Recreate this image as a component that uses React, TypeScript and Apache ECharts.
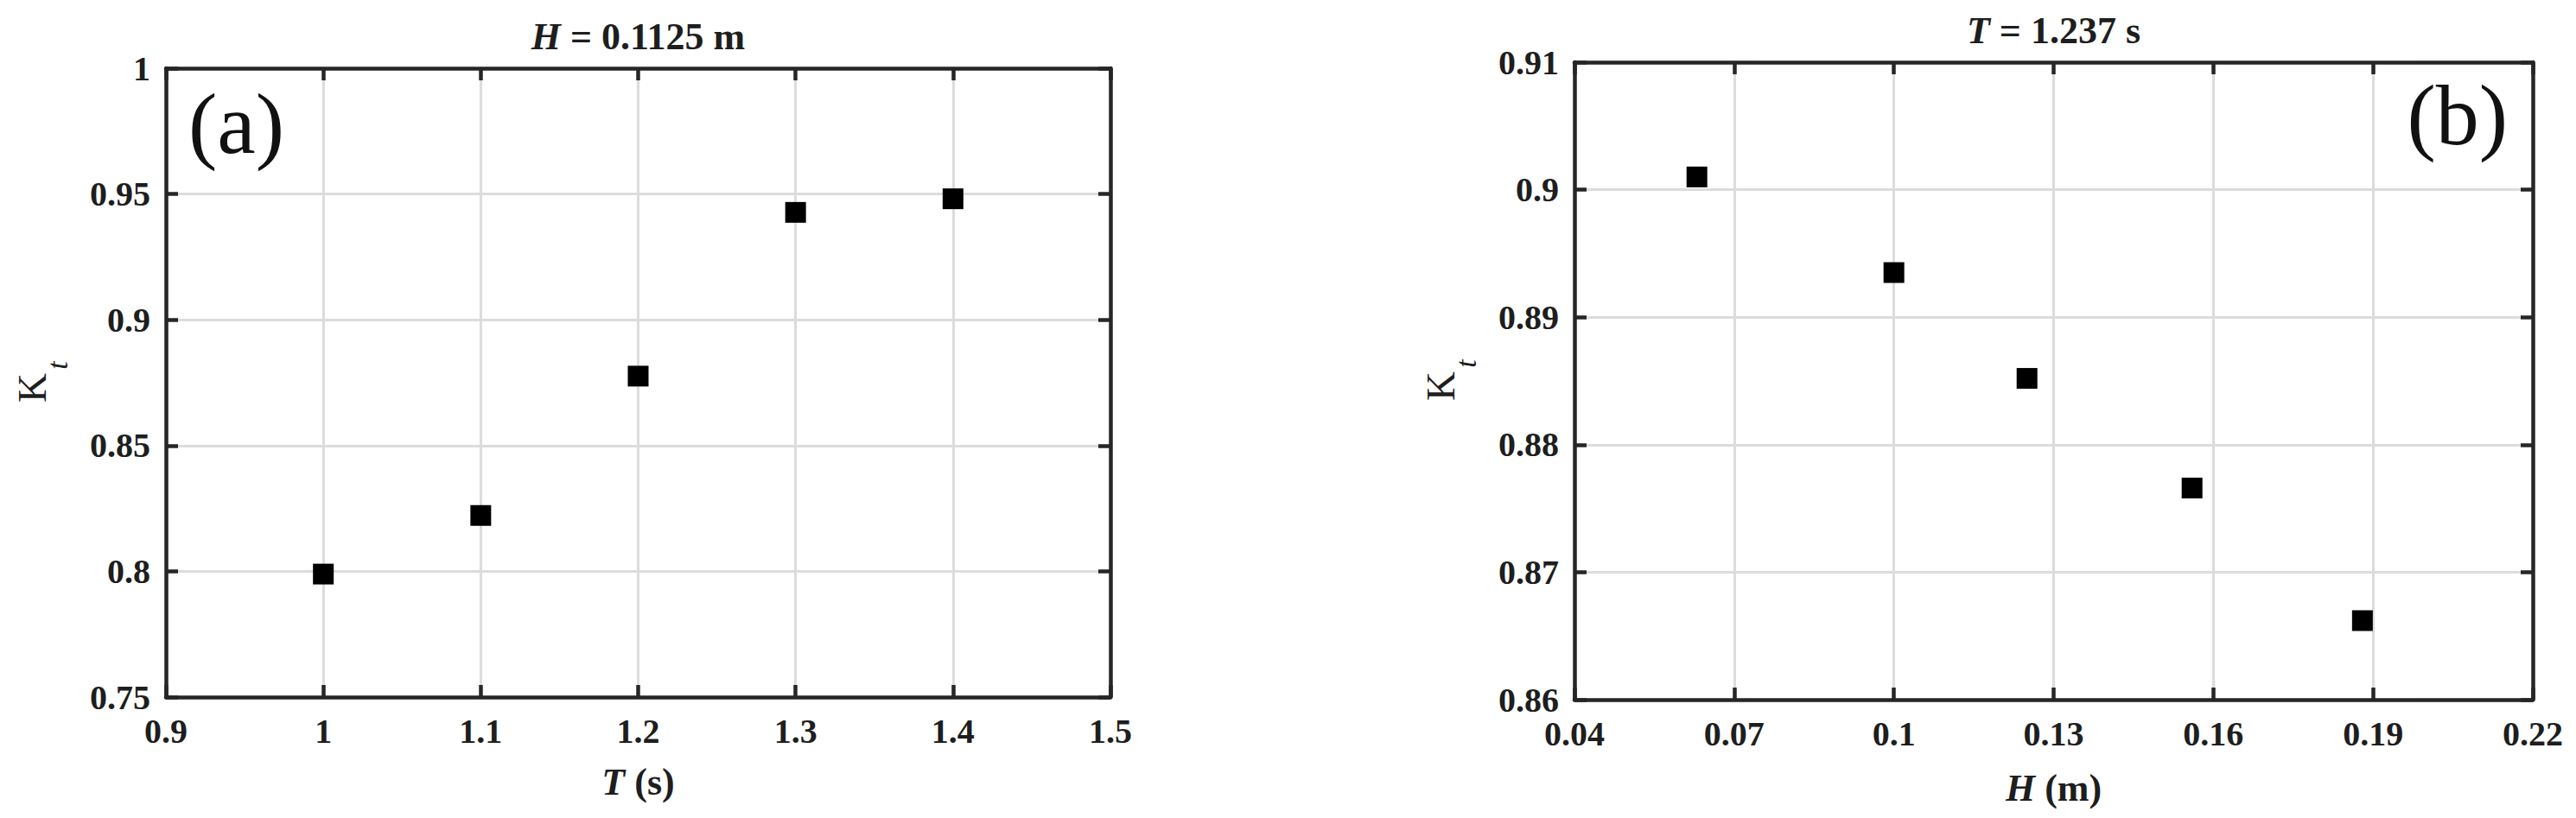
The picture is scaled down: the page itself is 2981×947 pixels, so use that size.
import React, { useEffect, useRef } from "react";
import * as echarts from "echarts";

// ---- data ----
const T_VALUES = [1.0, 1.1, 1.2, 1.3, 1.4]; // wave period T (s), panel (a)
const KT_A = [0.7989, 0.8222, 0.8776, 0.9427, 0.9481]; // K_t, panel (a)
const H_VALUES = [0.063, 0.1, 0.125, 0.156, 0.188]; // wave height H (m), panel (b)
const KT_B = [0.901, 0.8935, 0.8852, 0.8766, 0.8662]; // K_t, panel (b)

const X_A = { min: 0.9, max: 1.5, interval: 0.1 };
const Y_A = { min: 0.75, max: 1.0, interval: 0.05 };
const X_B = { min: 0.04, max: 0.22, interval: 0.03 };
const Y_B = { min: 0.86, max: 0.91, interval: 0.01 };

const TITLE_A = "{i|H} = 0.1125 m";
const TITLE_B = "{i|T} = 1.237 s";
const XNAME_A = "{i|T} (s)";
const XNAME_B = "{i|H} (m)";

const FONT = "'Liberation Serif', 'DejaVu Serif', serif";
const DARK = "#262626";
const TXT = "#1e1e1e";

const fmt = (v: number) => String(Math.round(v * 1000) / 1000);

export default function App() {
  const ref = useRef<HTMLDivElement>(null);
  useEffect(() => {
    if (!ref.current) return;
    const chart = echarts.init(ref.current, undefined, { renderer: "svg" });

    const lineStyle = { color: DARK, width: 4.5 };
    const label = {
      show: true,
      fontFamily: FONT,
      fontSize: 40,
      fontWeight: "bold" as const,
      color: TXT,
      formatter: fmt,
    };
    const mainX = (g: number, r: any) => ({
      gridIndex: g,
      type: "value",
      ...r,
      position: "bottom",
      axisLine: { show: true, onZero: false, lineStyle },
      axisTick: { show: true, inside: true, length: 14, lineStyle },
      splitLine: { show: true, lineStyle: { color: "#dcdcdc", width: 3 } },
      axisLabel: { ...label, margin: 19 },
    });
    const sideX = (g: number, r: any) => ({
      gridIndex: g,
      type: "value",
      ...r,
      position: "top",
      axisLine: { show: true, onZero: false, lineStyle },
      axisTick: { show: true, inside: true, length: 14, lineStyle },
      splitLine: { show: false },
      axisLabel: { show: false },
    });
    const mainY = (g: number, r: any) => ({
      gridIndex: g,
      type: "value",
      ...r,
      position: "left",
      axisLine: { show: true, onZero: false, lineStyle },
      axisTick: { show: true, inside: true, length: 14, lineStyle },
      splitLine: { show: true, lineStyle: { color: "#dcdcdc", width: 3 } },
      axisLabel: { ...label, margin: 18 },
    });
    const sideY = (g: number, r: any) => ({
      gridIndex: g,
      type: "value",
      ...r,
      position: "right",
      axisLine: { show: true, onZero: false, lineStyle },
      axisTick: { show: true, inside: true, length: 14, lineStyle },
      splitLine: { show: false },
      axisLabel: { show: false },
    });

    const boldText = (
      text: string,
      x: number,
      y: number,
      size: number,
      align: string = "center"
    ) => ({
      type: "text",
      x,
      y,
      style: {
        text,
        fontFamily: FONT,
        fontSize: size,
        fontWeight: "bold",
        fill: TXT,
        align,
        verticalAlign: "middle",
        rich: {
          i: {
            fontFamily: FONT,
            fontSize: size,
            fontWeight: "bold",
            fontStyle: "italic",
            fill: TXT,
          },
        },
      },
    });

    const kt = (xK: number, yK: number) => [
      {
        type: "text",
        x: xK,
        y: yK,
        rotation: Math.PI / 2,
        style: {
          text: "K",
          fontFamily: FONT,
          fontSize: 47,
          fill: TXT,
          align: "center",
          verticalAlign: "middle",
        },
      },
      {
        type: "text",
        x: xK + 29,
        y: yK - 26,
        rotation: Math.PI / 2,
        style: {
          text: "t",
          fontFamily: FONT,
          fontSize: 34,
          fontStyle: "italic",
          fill: TXT,
          align: "center",
          verticalAlign: "middle",
        },
      },
    ];

    const panelLabel = (text: string, x: number, y: number, align: string) => ({
      type: "text",
      x,
      y,
      style: {
        text,
        fontFamily: FONT,
        fontSize: 100,
        fill: "#111",
        align,
        verticalAlign: "middle",
      },
    });

    chart.setOption({
      animation: false,
      backgroundColor: "#ffffff",
      grid: [
        { left: 192, top: 79, width: 1093, height: 728 },
        { left: 1822, top: 72, width: 1109, height: 738 },
      ],
      xAxis: [mainX(0, X_A), sideX(0, X_A), mainX(1, X_B), sideX(1, X_B)],
      yAxis: [mainY(0, Y_A), sideY(0, Y_A), mainY(1, Y_B), sideY(1, Y_B)],
      series: [
        {
          type: "scatter",
          xAxisIndex: 0,
          yAxisIndex: 0,
          symbol: "rect",
          symbolSize: 24,
          itemStyle: { color: "#000", opacity: 1 },
          data: T_VALUES.map((t, i) => [t, KT_A[i]]),
        },
        {
          type: "scatter",
          xAxisIndex: 2,
          yAxisIndex: 2,
          symbol: "rect",
          symbolSize: 24,
          itemStyle: { color: "#000", opacity: 1 },
          data: H_VALUES.map((h, i) => [h, KT_B[i]]),
        },
      ],
      graphic: [
        boldText(TITLE_A, 738.5, 42, 44),
        boldText(TITLE_B, 2376.5, 35, 44),
        boldText(XNAME_A, 738.5, 905, 44),
        boldText(XNAME_B, 2376.5, 912, 44),
        ...kt(37, 449),
        ...kt(1667, 447),
        panelLabel("(a)", 218, 143, "left"),
        panelLabel("(b)", 2902, 133, "right"),
      ],
    });
    return () => chart.dispose();
  }, []);
  return (
    <div
      ref={ref}
      style={{ position: "fixed", left: 0, top: 0, width: 2981, height: 947 }}
    />
  );
}
